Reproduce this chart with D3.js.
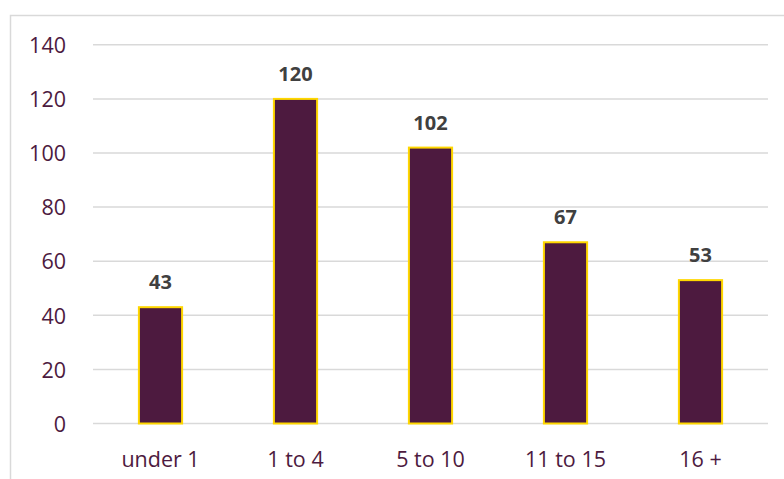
<!DOCTYPE html>
<html>
<head>
<meta charset="utf-8">
<script src="https://cdn.jsdelivr.net/npm/d3@7"></script>
<style>
  html, body { margin: 0; padding: 0; background: #fff; }
  svg { display: block; font-family: "Open Sans", "Liberation Sans", Arial, sans-serif; }
</style>
</head>
<body>
<svg id="chart" width="784" height="479"></svg>
<script>
// Patients by age group
const categories = ["under 1", "1 to 4", "5 to 10", "11 to 15", "16 +"];
const counts = [43, 120, 102, 67, 53];
const yTicks = [0, 20, 40, 60, 80, 100, 120, 140];

const FONT = "'Open Sans', 'Liberation Sans', Arial, sans-serif";
const svg = d3.select("#chart");
const W = 784, H = 479;
const plot = { left: 93, right: 768, top: 44.8, bottom: 423.5 };

// Outer chart frame (runs off the right and bottom edges)
svg.append("rect")
  .attr("x", 10.5).attr("y", 15.5)
  .attr("width", W).attr("height", H)
  .attr("fill", "none")
  .attr("stroke", "#d9d9d9")
  .attr("stroke-width", 1.5);

const x = d3.scaleBand()
  .domain(categories)
  .range([plot.left, plot.right])
  .paddingInner(0.68)
  .paddingOuter(0.34);

const y = d3.scaleLinear()
  .domain([0, 140])
  .range([plot.bottom, plot.top]);

// Horizontal gridlines
svg.append("g")
  .selectAll("line")
  .data(yTicks)
  .join("line")
  .attr("x1", plot.left).attr("x2", plot.right)
  .attr("y1", d => y(d)).attr("y2", d => y(d))
  .attr("stroke", "#d9d9d9")
  .attr("stroke-width", 1.5);

// Y axis labels
const yAxis = d3.axisLeft(y).tickValues(yTicks).tickSize(0).tickPadding(0);
const yg = svg.append("g")
  .attr("transform", "translate(66,0)")
  .call(yAxis);
yg.select(".domain").remove();
yg.selectAll("text")
  .attr("fill", "#4d1a40")
  .attr("font-size", "21.5px")
  .attr("font-family", FONT)
  .attr("dy", "0.36em");

// X axis labels
const xAxis = d3.axisBottom(x).tickSize(0).tickPadding(0);
const xg = svg.append("g")
  .attr("transform", "translate(0,467)")
  .call(xAxis);
xg.select(".domain").remove();
xg.selectAll("text")
  .attr("fill", "#4d1a40")
  .attr("font-size", "21.5px")
  .attr("font-family", FONT)
  .attr("dy", "0");

// Bars
svg.append("g")
  .selectAll("rect")
  .data(categories)
  .join("rect")
  .attr("x", d => x(d))
  .attr("width", x.bandwidth())
  .attr("y", (d, i) => y(counts[i]))
  .attr("height", (d, i) => y(0) - y(counts[i]))
  .attr("fill", "#4d1a3f")
  .attr("stroke", "#ffd700")
  .attr("stroke-width", 2);

// Value labels
svg.append("g")
  .selectAll("text")
  .data(categories)
  .join("text")
  .attr("x", d => x(d) + x.bandwidth() / 2)
  .attr("y", (d, i) => y(counts[i]) - 18)
  .attr("text-anchor", "middle")
  .attr("font-size", "20px")
  .attr("font-weight", "bold")
  .attr("font-family", FONT)
  .attr("fill", "#404040")
  .text((d, i) => counts[i]);
</script>
</body>
</html>
